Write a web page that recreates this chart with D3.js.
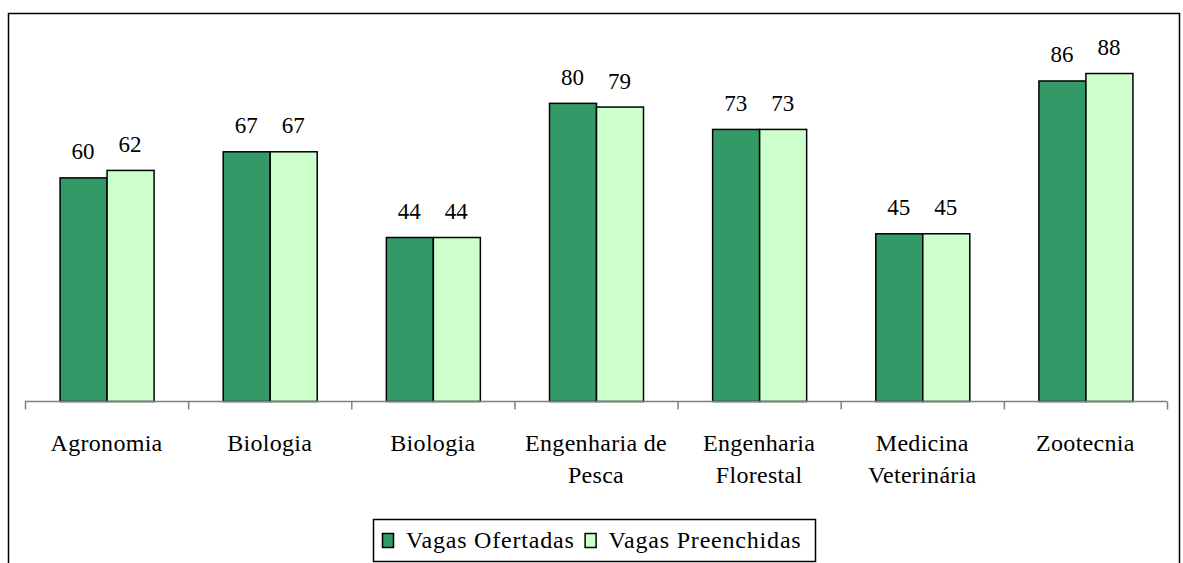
<!DOCTYPE html>
<html><head><meta charset="utf-8">
<script src="https://cdn.jsdelivr.net/npm/d3@7"></script>
</head>
<body style="margin:0;background:#fff">
<svg id="chart" width="1183" height="563"></svg>
<script>
const categories = [["Agronomia"],["Biologia"],["Biologia"],["Engenharia de","Pesca"],["Engenharia","Florestal"],["Medicina","Veterinária"],["Zootecnia"]];
const seriesNames = ["Vagas Ofertadas","Vagas Preenchidas"];
const ofertadas = [60,67,44,80,73,45,86];
const preenchidas = [62,67,44,79,73,45,88];
const colors = ["#339966","#CCFFCC"];
const FONT = "Liberation Serif";

const svg = d3.select("#chart");
svg.append("rect").attr("x",8.5).attr("y",13.5).attr("width",1171).attr("height",600)
  .attr("fill","none").attr("stroke","#000").attr("stroke-width",1.5);

const x0 = 25, x1 = 1167, yBase = 401;
const x = d3.scaleBand().domain(d3.range(categories.length)).range([x0,x1]);
const y = d3.scaleLinear().domain([0,100]).range([yBase, yBase-372.7]);

const bw = 47;
const g = svg.append("g");
categories.forEach((c,i)=>{
  const cx = x(i) + x.bandwidth()/2;
  [ofertadas[i],preenchidas[i]].forEach((v,k)=>{
    const bx = cx + (k===0 ? -bw : 0);
    g.append("rect").attr("x",bx+0.5).attr("y",y(v)+0.5).attr("width",bw).attr("height",yBase-y(v))
      .attr("fill",colors[k]).attr("stroke","#000").attr("stroke-width",1.5);
    g.append("text").attr("x",bx+bw/2).attr("y",y(v)-18).attr("text-anchor","middle")
      .attr("font-family",FONT).attr("font-size",23).text(v);
  });
});

const axis = d3.axisBottom(x).tickSize(0).tickFormat("");
const ag = svg.append("g").attr("transform",`translate(0,${yBase+0.5})`).call(axis);
ag.attr("font-family",FONT);
ag.select(".domain").attr("stroke","#808080").attr("stroke-width",1.5).attr("d",`M${x0},0H${x1}`);
const tickPos = d3.range(categories.length+1).map(i=> i<categories.length ? x(i) : x1);
ag.selectAll(".sep").data(tickPos).enter().append("line").attr("class","sep")
  .attr("x1",d=>d+0.5).attr("x2",d=>d+0.5).attr("y1",0).attr("y2",8).attr("stroke","#808080").attr("stroke-width",1.5);

categories.forEach((lines,i)=>{
  const cx = x(i)+x.bandwidth()/2;
  lines.forEach((l,j)=>{
    svg.append("text").attr("x",cx).attr("y",451+j*32).attr("text-anchor","middle")
      .attr("font-family",FONT).attr("font-size",24).attr("letter-spacing",0.3).text(l);
  });
});

const lg = svg.append("g");
lg.append("rect").attr("x",373.5).attr("y",519.5).attr("width",442).attr("height",42)
  .attr("fill","#fff").attr("stroke","#000").attr("stroke-width",1.5);
let lx = 382;
seriesNames.forEach((n,k)=>{
  lg.append("rect").attr("x",lx+0.5).attr("y",533.5).attr("width",11).attr("height",14)
    .attr("fill",colors[k]).attr("stroke","#000").attr("stroke-width",1.5);
  const t = lg.append("text").attr("x",lx+24).attr("y",548).attr("font-family",FONT)
    .attr("font-size",24).attr("letter-spacing",0.8).text(n);
  const w = t.node().getComputedTextLength();
  lx = lx + 24 + w + 10;
});
</script>
</body></html>
